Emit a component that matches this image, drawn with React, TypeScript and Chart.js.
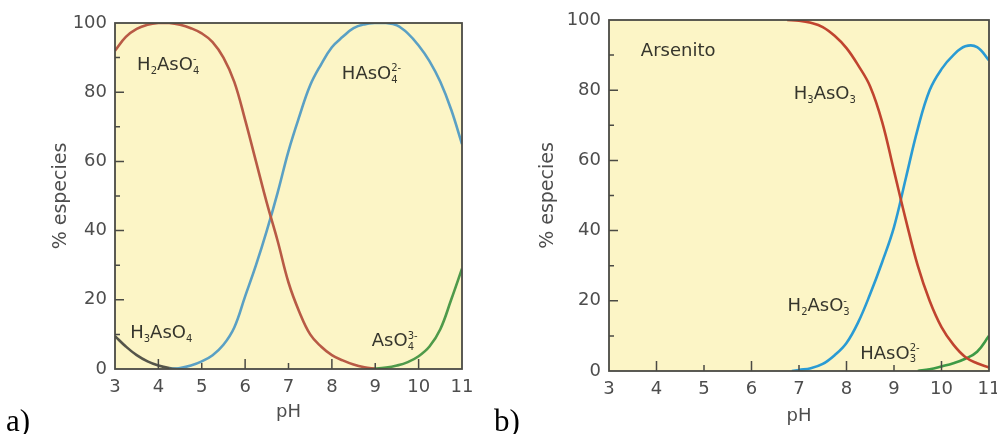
import React, { useEffect, useRef } from "react";
import { Chart, registerables } from "chart.js";

Chart.register(...registerables);

// ---------- data: chart a) arseniato ----------
const A_H2ASO4_PH = [3, 3.25, 3.5, 3.75, 4, 4.25, 4.5, 4.75, 5, 5.25, 5.5, 5.75, 6, 6.25, 6.5, 6.75, 7, 7.25, 7.5, 7.75, 8, 8.25, 8.5, 8.75, 9];
const A_H2ASO4 = [92, 96, 98.3, 99.5, 100, 100, 99.5, 98.5, 97, 94.5, 90, 83, 72, 60, 48, 37, 25, 16.5, 10, 6.5, 4, 2.5, 1.3, 0.5, 0];

const A_HASO4_PH = [4.25, 4.5, 4.75, 5, 5.25, 5.5, 5.75, 6, 6.25, 6.5, 6.75, 7, 7.25, 7.5, 7.75, 8, 8.25, 8.5, 8.75, 9, 9.25, 9.5, 9.75, 10, 10.25, 10.5, 10.75, 11];
const A_HASO4 = [0, 0.3, 1, 2.2, 4, 7, 12, 21, 30, 40, 51, 63, 73, 82, 88, 93, 96, 98.5, 99.6, 100, 100, 99.3, 97, 93.5, 89, 83, 75, 65];

const A_H3ASO4_PH = [3, 3.25, 3.5, 3.75, 4, 4.25, 4.5];
const A_H3ASO4 = [9.5, 6.5, 4, 2.2, 1, 0.3, 0];

const A_ASO4_PH = [8.9, 9.25, 9.5, 9.75, 10, 10.25, 10.5, 10.75, 11];
const A_ASO4 = [0, 0.4, 1, 2, 3.7, 6.5, 11.5, 20, 29];

// ---------- data: chart b) arsenito ----------
const B_H3ASO3_PH = [6.75, 7, 7.25, 7.5, 7.75, 8, 8.25, 8.5, 8.75, 9, 9.25, 9.5, 9.75, 10, 10.25, 10.5, 10.75, 11];
const B_H3ASO3 = [100, 99.8, 99.2, 98, 95.5, 92, 87, 81, 71, 57, 43, 30, 20, 12.5, 7.5, 4, 2.2, 1];

const B_H2ASO3_PH = [6.85, 7, 7.25, 7.5, 7.75, 8, 8.25, 8.5, 8.75, 9, 9.25, 9.5, 9.75, 10, 10.25, 10.5, 10.75, 11];
const B_H2ASO3 = [0, 0.3, 0.8, 2, 4.5, 8, 14, 22, 31, 41, 55, 69, 80, 86, 90, 92.5, 92.3, 88.5];

const B_HASO3_PH = [9.5, 9.75, 10, 10.25, 10.5, 10.75, 11];
const B_HASO3 = [0, 0.5, 1.3, 2.2, 3.5, 5.5, 10];

// ---------- axes ----------
const PH_MIN = 3;
const PH_MAX = 11;
const PH_STEP = 1;
const PCT_MIN = 0;
const PCT_MAX = 100;
const PCT_STEP = 20;
const PH_INNER_TICKS = [4, 5, 6, 7, 8, 9, 10];
const PCT_MAJOR_TICKS = [20, 40, 60, 80];
const PCT_MINOR_TICKS = [10, 30, 50, 70, 90];

const X_TITLE = "pH";
const Y_TITLE = "% especies";

// labels (text with _{sub} and ^{sup}), anchored at [pH, %]
const LABELS_A = [
  { text: "H_{2}AsO_{4}^{-}", at: [3.51, 88.4] },
  { text: "HAsO_{4}^{2-}", at: [8.23, 85.8] },
  { text: "H_{3}AsO_{4}", at: [3.35, 10.7] },
  { text: "AsO_{4}^{3-}", at: [8.92, 8.4] },
];
const LABELS_B = [
  { text: "Arsenito", at: [3.67, 91.5] },
  { text: "H_{3}AsO_{3}", at: [6.89, 79.2] },
  { text: "H_{2}AsO_{3}^{-}", at: [6.76, 18.8] },
  { text: "HAsO_{3}^{2-}", at: [8.29, 5.4] },
];

const FONT = "'DejaVu Sans', 'Liberation Sans', Arial, sans-serif";

const zip = (xs: number[], ys: number[]) => xs.map((x, i) => ({ x, y: ys[i] }));

function drawChem(ctx: CanvasRenderingContext2D, text: string, x: number, y: number, size: number, color: string) {
  const parts = text.split(/(_\{[^}]*\}|\^\{[^}]*\})/).filter((p) => p.length > 0);
  const small = Math.round(size * 0.55);
  let cx = x;
  let lastSubW = 0;
  let prevSub = false;
  ctx.save();
  ctx.fillStyle = color;
  ctx.textAlign = "left";
  ctx.textBaseline = "alphabetic";
  for (const p of parts) {
    if (p.startsWith("_{")) {
      const t = p.slice(2, -1);
      ctx.font = `${small}px ${FONT}`;
      ctx.fillText(t, cx, y + size * 0.22);
      const w = ctx.measureText(t).width;
      cx += w;
      lastSubW = w;
      prevSub = true;
    } else if (p.startsWith("^{")) {
      const t = p.slice(2, -1);
      ctx.font = `${small}px ${FONT}`;
      const sx = prevSub ? cx - lastSubW : cx;
      ctx.fillText(t, sx, y - size * 0.42);
      const w = ctx.measureText(t).width;
      cx = Math.max(cx, sx + w);
      prevSub = false;
    } else {
      ctx.font = `${size}px ${FONT}`;
      ctx.fillText(p, cx, y);
      cx += ctx.measureText(p).width;
      prevSub = false;
    }
  }
  ctx.restore();
}

const framePlugin = {
  id: "frame",
  beforeDraw(chart: any) {
    const { ctx, chartArea: a } = chart;
    ctx.save();
    ctx.fillStyle = "#fcf5c6";
    ctx.fillRect(a.left, a.top, a.right - a.left, a.bottom - a.top);
    ctx.restore();
  },
  afterDatasetsDraw(chart: any, _args: any, opts: any) {
    const { ctx, chartArea: a, scales } = chart;
    const xs = scales.x;
    const ys = scales.y;
    ctx.save();
    ctx.strokeStyle = "#4a4a44";
    ctx.lineWidth = 1.5;
    ctx.beginPath();
    for (const v of PH_INNER_TICKS) {
      const px = xs.getPixelForValue(v);
      const len = v % 2 === 0 ? 10 : 6;
      ctx.moveTo(px, a.bottom);
      ctx.lineTo(px, a.bottom - len);
    }
    for (const v of PCT_MAJOR_TICKS) {
      const py = ys.getPixelForValue(v);
      ctx.moveTo(a.left, py);
      ctx.lineTo(a.left + 9, py);
    }
    for (const v of PCT_MINOR_TICKS) {
      const py = ys.getPixelForValue(v);
      ctx.moveTo(a.left, py);
      ctx.lineTo(a.left + 5, py);
    }
    ctx.stroke();
    ctx.lineWidth = 1.8;
    ctx.strokeRect(a.left, a.top, a.right - a.left, a.bottom - a.top);
    ctx.restore();
    const size = 18;
    for (const l of opts.labels || []) {
      const px = xs.getPixelForValue(l.at[0]);
      const py = ys.getPixelForValue(l.at[1]);
      drawChem(ctx, l.text, px, py + size * 0.36, size, "#35352c");
    }
  },
};

function makeConfig(datasets: any[], labels: any[], yWidth: number, xHeight: number, pad: any, yTitlePad: number, xTitlePad: number) {
  return {
    type: "line",
    data: { datasets },
    options: {
      animation: false,
      responsive: false,
      maintainAspectRatio: false,
      events: [],
      layout: { padding: pad },
      plugins: {
        legend: { display: false },
        tooltip: { enabled: false },
        frame: { labels },
      },
      elements: {
        point: { radius: 0 },
        line: { borderWidth: 2.6, tension: 0.4, cubicInterpolationMode: "default", capBezierPoints: true },
      },
      scales: {
        x: {
          type: "linear",
          min: PH_MIN,
          max: PH_MAX,
          grid: { display: true, drawOnChartArea: false, drawTicks: false, color: "rgba(0,0,0,0)" },
          border: { display: false },
          ticks: { stepSize: PH_STEP, padding: 8, color: "#4d4d4d", font: { family: FONT, size: 18 } },
          title: { display: true, text: X_TITLE, color: "#4d4d4d", font: { family: FONT, size: 18 }, padding: { top: 0, bottom: xTitlePad } },
          afterFit: (s: any) => {
            s.height = xHeight;
          },
        },
        y: {
          type: "linear",
          min: PCT_MIN,
          max: PCT_MAX,
          grid: { display: true, drawOnChartArea: false, drawTicks: false, color: "rgba(0,0,0,0)" },
          border: { display: false },
          ticks: { stepSize: PCT_STEP, padding: 8, color: "#4d4d4d", font: { family: FONT, size: 18 } },
          title: { display: true, text: Y_TITLE, color: "#4d4d4d", font: { family: FONT, size: 19 }, padding: { top: yTitlePad, bottom: 0 } },
          afterFit: (s: any) => {
            s.width = yWidth;
          },
        },
      },
    },
    plugins: [framePlugin],
  } as any;
}

function ChartCanvas(props: { config: () => any; left: number; width: number }) {
  const ref = useRef<HTMLCanvasElement | null>(null);
  useEffect(() => {
    if (!ref.current) return;
    const chart = new Chart(ref.current, props.config());
    return () => chart.destroy();
  }, []);
  return (
    <canvas
      ref={ref}
      width={props.width}
      height={434}
      style={{ position: "absolute", left: props.left, top: 0, width: props.width, height: 434 }}
    />
  );
}

const line = (data: any[], color: string) => ({ data, borderColor: color, backgroundColor: color, fill: false });

export default function App() {
  const cfgA = () =>
    makeConfig(
      [
        line(zip(A_H2ASO4_PH, A_H2ASO4), "#b85a45"),
        line(zip(A_HASO4_PH, A_HASO4), "#5aa0c4"),
        line(zip(A_H3ASO4_PH, A_H3ASO4), "#55554a"),
        line(zip(A_ASO4_PH, A_ASO4), "#4f9a4a"),
      ],
      LABELS_A,
      115,
      65,
      { top: 23, right: 28, left: 0, bottom: 0 },
      50,
      11
    );
  const cfgB = () =>
    makeConfig(
      [
        line(zip(B_H3ASO3_PH, B_H3ASO3), "#c0442f"),
        line(zip(B_H2ASO3_PH, B_H2ASO3), "#2a9bd4"),
        line(zip(B_HASO3_PH, B_HASO3), "#3d9a45"),
      ],
      LABELS_B,
      119,
      63,
      { top: 20, right: 21, left: 0, bottom: 0 },
      47,
      7
    );
  const serif = "'Liberation Serif', 'Times New Roman', Times, serif";
  return (
    <div style={{ position: "fixed", left: 0, top: 0, width: 997, height: 434, overflow: "hidden", background: "#fff" }}>
      <ChartCanvas config={cfgA} left={0} width={490} />
      <ChartCanvas config={cfgB} left={490} width={520} />
      <div style={{ position: "absolute", left: 6, top: 405, fontFamily: serif, fontSize: 31, lineHeight: "31px", color: "#000" }}>a)</div>
      <div style={{ position: "absolute", left: 494, top: 405, fontFamily: serif, fontSize: 31, lineHeight: "31px", color: "#000" }}>b)</div>
    </div>
  );
}
